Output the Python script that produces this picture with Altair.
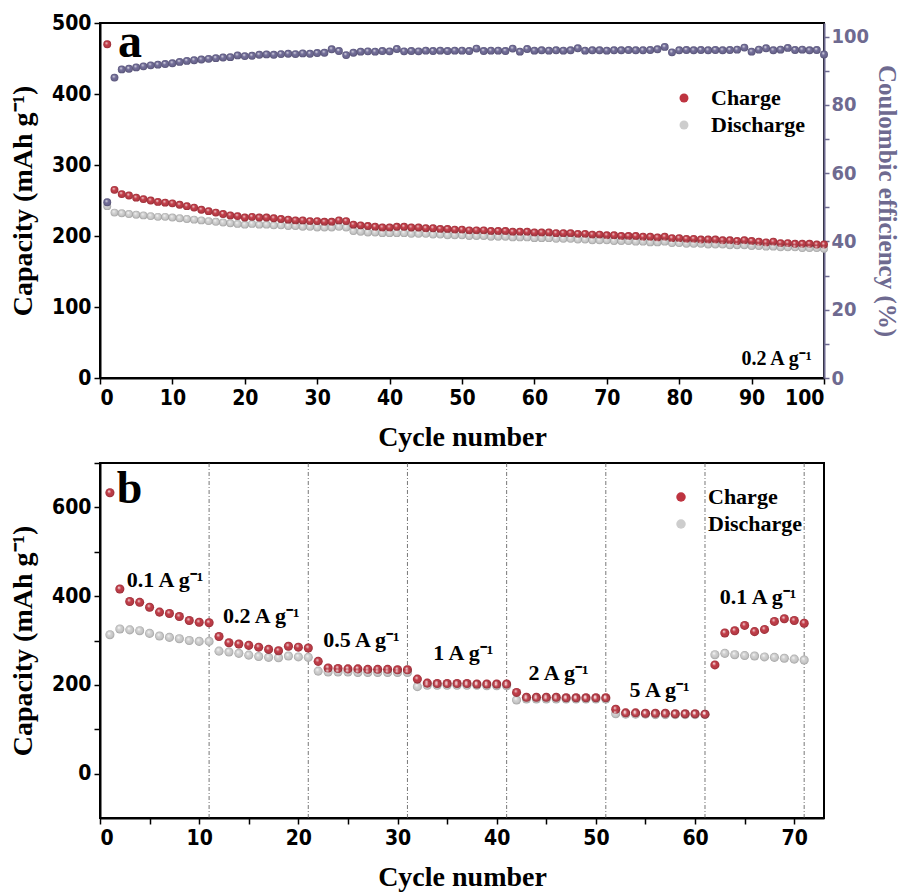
import altair as alt
import pandas as pd

# ---------------- data: panel a (cycling at 0.2 A g-1) ----------------
cycles_a = list(range(1, 101))
charge_a = [470, 265, 259, 257, 254, 252, 250, 248, 247, 246,
            244, 242, 240, 237, 235, 233, 231, 229, 228, 226,
            227, 226, 226, 225, 224, 223, 222, 222, 221, 221,
            220, 220, 222, 221, 216, 215, 214, 213, 212, 212,
            213, 213, 212, 212, 211, 211, 210, 210, 209, 209,
            208, 208, 208, 207, 207, 207, 206, 206, 206, 205,
            205, 205, 204, 204, 204, 203, 203, 202, 202, 201,
            201, 200, 200, 200, 199, 199, 198, 199, 197, 197,
            196, 196, 195, 195, 195, 194, 194, 193, 194, 193,
            192, 191, 192, 190, 190, 189, 189, 189, 188, 188]
discharge_a = [242, 233, 232, 231, 230, 229, 228, 227, 227, 226,
               225, 224, 223, 222, 221, 220, 219, 218, 217, 216,
               217, 216, 216, 215, 215, 214, 214, 213, 213, 212,
               212, 212, 213, 212, 207, 206, 205, 205, 204, 204,
               204, 204, 203, 203, 203, 202, 202, 201, 201, 201,
               200, 200, 200, 199, 199, 199, 198, 198, 198, 197,
               197, 197, 196, 196, 196, 195, 195, 194, 194, 194,
               193, 193, 193, 192, 192, 191, 191, 192, 190, 190,
               189, 189, 189, 188, 188, 188, 187, 187, 187, 186,
               186, 185, 185, 184, 184, 184, 183, 183, 183, 182]
ce_a = [51.5, 88.0, 90.4, 90.6, 91.0, 91.3, 91.6, 91.8, 92.0, 92.2,
        92.6, 92.9, 93.1, 93.3, 93.5, 93.7, 93.9, 94.0, 94.5, 94.3,
        94.4, 94.7, 94.8, 94.7, 94.9, 95.0, 94.9, 95.1, 95.0, 95.2,
        95.3, 96.3, 95.8, 94.6, 95.3, 95.6, 95.7, 95.6, 95.8, 95.7,
        96.4, 95.7, 95.8, 95.7, 95.9, 95.8, 95.9, 95.8, 95.9, 95.9,
        95.8, 96.5, 95.8, 95.9, 95.9, 95.8, 96.5, 95.6, 96.4, 95.9,
        96.0, 95.9, 96.0, 95.9, 96.0, 96.6, 95.9, 96.0, 96.0, 95.9,
        96.0, 96.0, 96.1, 96.0, 96.0, 96.1, 96.3, 97.0, 95.4, 96.0,
        96.1, 96.0, 96.1, 96.0, 96.1, 96.0, 96.1, 96.2, 96.8, 95.6,
        96.2, 96.6, 96.0, 96.2, 96.7, 96.1, 96.2, 96.0, 96.1, 94.8]

# ---------------- data: panel b (rate capability) ----------------
cycles_b = list(range(1, 72))
charge_b = [633, 416, 388, 386, 375, 364, 361, 354, 345, 341, 340,
            309, 295, 292, 289, 285, 280, 277, 287, 285, 283,
            253, 238, 237, 236, 236, 235, 235, 235, 234, 234,
            213, 204, 203, 203, 203, 203, 202, 202, 202, 202,
            183, 172, 172, 172, 172, 171, 171, 171, 171, 171,
            145, 137, 137, 136, 136, 136, 135, 135, 135, 134,
            245, 317, 322, 334, 320, 325, 343, 349, 345, 339]
discharge_b = [313, 326, 324, 322, 316, 310, 307, 304, 300, 298, 298,
               276, 274, 271, 267, 264, 262, 261, 265, 263, 262,
               231, 229, 229, 229, 228, 228, 228, 228, 228, 228,
               196, 199, 199, 199, 199, 199, 199, 198, 198, 198,
               166, 168, 168, 168, 168, 168, 168, 168, 168, 168,
               135, 134, 134, 134, 133, 133, 133, 133, 133, 133,
               268, 271, 268, 266, 265, 263, 262, 260, 258, 256]
rate_bounds = [11, 21, 31, 41, 51, 61, 71]
rate_labels = ["0.1 A g⁻¹", "0.2 A g⁻¹", "0.5 A g⁻¹", "1 A g⁻¹",
               "2 A g⁻¹", "5 A g⁻¹", "0.1 A g⁻¹"]
rate_label_x = [2.7, 12.4, 22.5, 33.6, 43.2, 53.4, 62.5]
rate_label_y = [420, 339, 285, 255, 210, 172, 383]

series_names = ["Charge", "Discharge"]

# ---------------- styling ----------------
SERIF = "Liberation Serif, Times New Roman, serif"
NUM = "DejaVu Sans Condensed, Liberation Sans Narrow, Arial Narrow, sans-serif"
RED = "#BE3440"
GRAY = "#CDCDCD"
PURPLE = "#6A6592"
AXPURPLE = "#6E6A90"

shine = alt.RadialGradient(
    gradient="radial",
    stops=[alt.GradientStop(color="rgba(255,255,255,0.9)", offset=0),
           alt.GradientStop(color="rgba(255,255,255,0)", offset=0.45),
           alt.GradientStop(color="rgba(0,0,0,0.22)", offset=1)],
    x1=0.38, y1=0.32, r1=0, x2=0.5, y2=0.5, r2=0.5)

W, H = 724, 355

# ---------------- panel a ----------------
cap_a = pd.DataFrame({
    "cycle": cycles_a + cycles_a,
    "capacity": discharge_a + charge_a,
    "series": ["Discharge"] * len(cycles_a) + ["Charge"] * len(cycles_a),
})
ce_df = pd.DataFrame({"cycle": cycles_a, "ce": ce_a})
ann_a = pd.DataFrame({"x": [2.5], "y": [452], "t": ["a"]})
note_a = pd.DataFrame({"x": [98.3], "y": [18], "t": ["0.2 A g⁻¹"]})

x_a = alt.X("cycle:Q", scale=alt.Scale(domain=[0, 100], nice=False, zero=False),
            axis=alt.Axis(values=list(range(0, 101, 5)),
                          labelExpr="datum.value % 10 == 0 ? datum.label : ''",
                          title="Cycle number"))
y_a = alt.Y("capacity:Q", scale=alt.Scale(domain=[0, 500], nice=False),
            axis=alt.Axis(values=list(range(0, 501, 50)),
                          labelExpr="datum.value % 100 == 0 ? datum.label : ''",
                          title="Capacity (mAh g⁻¹)"))
y_ce = alt.Y("ce:Q", scale=alt.Scale(domain=[0, 104], nice=False),
             axis=alt.Axis(orient="right", values=list(range(0, 101, 10)),
                           labelExpr="datum.value % 20 == 0 ? datum.label : ''",
                           title="Coulombic efficiency (%)",
                           domainColor=AXPURPLE, tickColor=AXPURPLE,
                           labelColor=AXPURPLE, titleColor=AXPURPLE,
                           titlePadding=5, titleFontSize=25, labelFontSize=20,
                           tickSize=5, labelPadding=2))

color_a = alt.Color("series:N",
                    scale=alt.Scale(domain=series_names, range=[RED, GRAY]),
                    legend=alt.Legend(orient="none", legendX=573, legendY=64,
                                      title=None, labelFont=SERIF, labelFontSize=22,
                                      labelFontWeight="bold", labelColor="black",
                                      symbolType="circle", symbolSize=80,
                                      symbolStrokeWidth=0, rowPadding=5,
                                      labelOffset=16))

cap_base = alt.Chart(cap_a).mark_circle(size=62, opacity=1).encode(
    x=x_a, y=y_a, color=color_a)
cap_shine = alt.Chart(cap_a).mark_circle(size=62, opacity=1, fill=shine).encode(
    x=x_a, y=y_a)
txt_a = alt.Chart(ann_a).mark_text(font=SERIF, fontSize=48, fontWeight="bold",
                                   align="left", baseline="alphabetic",
                                   color="black").encode(
    x=alt.X("x:Q", scale=alt.Scale(domain=[0, 100], nice=False)),
    y=alt.Y("y:Q", scale=alt.Scale(domain=[0, 500], nice=False)), text="t:N")
note_txt = alt.Chart(note_a).mark_text(font=SERIF, fontSize=20, fontWeight="bold",
                                       align="right", baseline="alphabetic",
                                       color="black").encode(
    x=alt.X("x:Q", scale=alt.Scale(domain=[0, 100], nice=False)),
    y=alt.Y("y:Q", scale=alt.Scale(domain=[0, 500], nice=False)), text="t:N")

left_layer = alt.layer(cap_base, cap_shine, txt_a, note_txt)

ce_base = alt.Chart(ce_df).mark_circle(size=62, opacity=1, color=PURPLE).encode(
    x=x_a, y=y_ce)
ce_shine = alt.Chart(ce_df).mark_circle(size=62, opacity=1, fill=shine).encode(
    x=x_a, y=y_ce)
right_layer = alt.layer(ce_base, ce_shine)

panel_a = alt.layer(left_layer, right_layer).resolve_scale(y="independent").properties(
    width=W, height=H)

# ---------------- panel b ----------------
cap_b = pd.DataFrame({
    "cycle": cycles_b + cycles_b,
    "capacity": discharge_b + charge_b,
    "series": ["Discharge"] * len(cycles_b) + ["Charge"] * len(cycles_b),
})
bounds_df = pd.DataFrame({"cycle": rate_bounds})
rate_df = pd.DataFrame({"cycle": rate_label_x, "capacity": rate_label_y, "t": rate_labels})
ann_b = pd.DataFrame({"cycle": [1.7], "capacity": [609], "t": ["b"]})

x_b = alt.X("cycle:Q", scale=alt.Scale(domain=[0, 73], nice=False, zero=False),
            axis=alt.Axis(values=list(range(0, 71, 5)),
                          labelExpr="datum.value % 10 == 0 ? datum.label : ''",
                          title="Cycle number"))
y_b = alt.Y("capacity:Q", scale=alt.Scale(domain=[-100, 700], nice=False, zero=False),
            axis=alt.Axis(values=list(range(0, 701, 100)),
                          labelExpr="datum.value % 200 == 0 ? datum.label : ''",
                          title="Capacity (mAh g⁻¹)"))
color_b = alt.Color("series:N",
                    scale=alt.Scale(domain=series_names, range=[RED, GRAY]),
                    legend=alt.Legend(orient="none", legendX=570, legendY=23,
                                      title=None, labelFont=SERIF, labelFontSize=22,
                                      labelFontWeight="bold", labelColor="black",
                                      symbolType="circle", symbolSize=90,
                                      symbolStrokeWidth=0, rowPadding=5,
                                      labelOffset=16))

rules_b = alt.Chart(bounds_df).mark_rule(color="#555555", strokeWidth=0.8,
                                         strokeDash=[4, 2, 1, 2]).encode(x=x_b)
pts_b = alt.Chart(cap_b).mark_circle(size=82, opacity=1).encode(
    x=x_b, y=y_b, color=color_b)
shine_b = alt.Chart(cap_b).mark_circle(size=82, opacity=1, fill=shine).encode(
    x=x_b, y=y_b)
rate_txt = alt.Chart(rate_df).mark_text(font=SERIF, fontSize=22, fontWeight="bold",
                                        align="left", baseline="alphabetic",
                                        color="black").encode(x=x_b, y=y_b, text="t:N")
b_txt = alt.Chart(ann_b).mark_text(font=SERIF, fontSize=46, fontWeight="bold",
                                   align="left", baseline="alphabetic",
                                   color="black").encode(x=x_b, y=y_b, text="t:N")

panel_b = alt.layer(rules_b, pts_b, shine_b, rate_txt, b_txt).properties(width=W, height=H)

chart = alt.vconcat(panel_a, panel_b, spacing=9).resolve_scale(
    color="independent").resolve_legend(color="independent").properties(
    padding={"left": 0, "top": 3, "right": 0, "bottom": 0}
).configure_view(stroke="black", strokeWidth=2).configure_axis(
    grid=False, domainColor="black", domainWidth=2, tickColor="black",
    tickWidth=1.5, tickSize=6, labelFont=NUM, labelFontSize=21,
    labelFontWeight="bold", labelColor="black", labelPadding=3,
    titleFont=SERIF, titleFontSize=28, titleFontWeight="bold", titleColor="black"
).configure_axisX(titlePadding=15).configure_axisLeft(titlePadding=14)

chart.save("out.html", embed_options={"renderer": "svg", "actions": False})
